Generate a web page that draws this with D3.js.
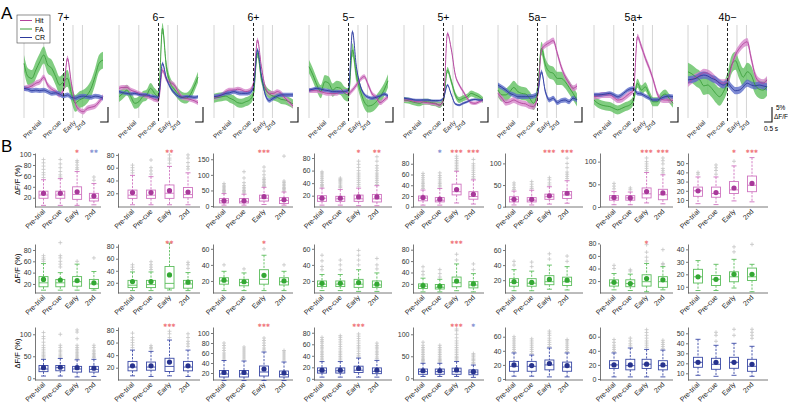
<!DOCTYPE html>
<html><head><meta charset="utf-8">
<script src="https://cdn.jsdelivr.net/npm/d3@7"></script>
<style>
body{margin:0;background:#fff;}
svg{display:block;font-family:"Liberation Sans",Arial,Helvetica,sans-serif;}
</style></head><body>
<svg id="c" width="788" height="406"></svg>
<script>
// ---------------- DATA ----------------
const panelTitles = ["7+","6\u2212","6+","5\u2212","5+","5a\u2212","5a+","4b\u2212"];
const seriesNames = ["Hit","FA","CR"];
const windowLabels = ["Pre-trial","Pre-cue","Early","2nd"];
const windowBounds = [-2.5,-1.25,0,0.6,1.2];   // s
const traceTimes = [-2.5,-2.25,-2,-1.75,-1.5,-1.25,-1,-0.75,-0.5,-0.25,0,0.25,0.5,0.75,1,1.25,1.5,1.75,2,2.25,2.5];

// mean traces, dF/F (%) per panel
const hitTrace = [
 [9.9,10.2,10.7,11.6,12.1,13.6,11.0,9.6,8.8,7.7,9.3,19.9,11.6,4.9,2.7,2.1,3.2,3.6,4.0,5.4,7.1],
 [9.9,10.2,10.2,9.3,8.8,8.2,7.7,7.3,6.9,6.2,6.0,16.0,12.9,11.8,11.0,8.8,6.9,6.6,6.2,5.8,5.1],
 [6.9,7.1,7.7,8.8,9.3,9.3,9.6,9.3,8.8,9.1,11.6,26.0,17.1,10.2,8.2,8.2,8.8,8.2,6.6,5.4,4.0],
 [9.1,9.1,9.1,8.8,8.4,8.2,8.2,8.2,8.8,8.8,8.2,9.3,11.0,12.9,13.8,11.0,8.0,6.9,5.1,6.0,7.1],
 [6.0,6.0,5.8,5.4,5.4,5.3,5.1,4.9,4.7,4.3,6.0,28.2,22.7,14.3,11.0,8.8,6.6,5.1,4.9,5.4,6.0],
 [8.2,6.6,5.1,5.4,6.0,5.4,4.9,4.7,4.0,3.8,7.1,22.7,24.3,25.1,25.8,21.6,17.1,13.8,11.6,9.9,10.7],
 [7.1,7.3,7.7,7.7,7.7,6.9,6.0,6.2,7.1,8.2,9.3,27.1,23.8,19.9,16.6,12.7,8.2,6.2,6.0,6.0,5.8],
 [11.6,12.7,13.6,14.3,15.1,14.9,14.0,12.7,11.8,11.6,12.1,17.1,21.0,23.2,24.7,25.4,19.9,14.3,12.1,11.6,12.7]
];
const faTrace = [
 [18.2,13.8,13.2,16.0,18.8,21.0,17.7,16.6,13.8,11.0,12.1,13.2,8.2,4.9,6.0,6.6,7.7,9.9,13.8,18.2,19.3],
 [7.1,8.2,9.3,7.1,4.9,5.4,7.1,7.7,9.9,8.2,7.1,29.9,17.1,11.6,9.6,8.0,6.9,6.6,7.7,10.4,13.6],
 [6.6,6.9,7.1,7.3,6.6,6.0,5.1,4.9,5.4,6.0,8.2,21.6,13.2,9.6,8.0,7.3,6.9,6.2,6.0,5.4,4.7],
 [17.1,14.3,11.0,8.8,12.1,11.6,9.3,10.2,9.9,8.2,7.7,22.7,14.3,9.1,5.4,4.0,4.3,5.4,7.1,9.3,12.4],
 [6.0,5.8,5.4,5.1,4.9,5.4,5.4,5.1,4.9,4.3,6.0,16.0,12.1,7.7,6.0,6.6,7.1,8.2,7.7,7.1,6.0],
 [9.3,7.7,7.7,8.8,10.2,8.8,8.2,8.0,6.6,4.9,8.8,23.2,17.7,15.4,14.9,13.2,13.2,12.1,10.2,8.2,6.0],
 [6.0,4.9,4.3,4.0,3.8,3.2,2.7,3.2,3.8,4.3,6.0,11.6,9.3,10.4,7.7,5.4,5.4,7.1,8.0,6.6,4.9],
 [15.4,14.7,13.6,12.7,10.7,11.0,9.9,8.2,7.1,8.8,12.1,17.7,19.1,16.0,13.6,15.4,14.3,11.0,9.6,9.3,10.4]
];
const crTrace = [
 [9.9,9.6,9.1,9.3,9.1,9.3,8.8,8.2,8.4,8.0,7.3,7.7,6.9,6.6,7.1,7.3,7.1,6.9,7.3,7.1,6.6],
 [8.8,8.4,8.2,8.0,8.2,7.9,7.7,7.7,7.3,7.1,6.9,18.2,13.2,10.2,8.4,7.3,6.9,7.1,7.1,6.9,7.1],
 [7.1,7.3,7.7,8.2,8.4,8.8,8.4,8.2,8.2,8.4,10.2,22.7,14.3,7.7,5.8,6.6,7.3,7.7,7.7,7.7,7.7],
 [9.3,9.6,9.9,9.6,9.3,9.1,8.8,8.8,8.7,8.8,9.3,28.8,17.1,10.7,7.9,6.9,6.6,6.9,7.3,8.0,7.3],
 [6.6,6.4,6.2,6.0,6.0,6.0,6.0,5.8,5.8,5.8,6.6,11.0,7.7,4.7,4.3,4.9,5.4,6.0,6.2,6.0,6.0],
 [11.0,10.2,9.3,8.2,7.7,7.1,7.1,7.1,7.1,7.3,8.0,15.4,8.8,6.0,6.6,5.1,5.8,6.0,5.4,6.6,6.0],
 [7.7,7.7,7.8,8.0,8.2,7.7,7.1,7.7,8.8,9.6,9.9,8.2,8.0,7.3,6.6,6.0,6.0,6.6,7.1,7.3,7.1],
 [12.7,12.9,13.2,14.0,14.3,14.0,13.2,12.7,11.6,11.0,11.6,10.2,9.1,9.3,10.4,11.6,11.0,10.7,11.0,10.7,10.4]
];
// s.e.m. (%) per panel
const hitSem = [0.9,0.8,0.8,0.8,0.6,1.0,1.0,1.3];
const faSem  = [2.8,1.8,1.5,2.2,1.0,2.2,1.5,3.0];
const crSem  = [0.8,0.6,0.7,0.6,0.4,0.8,0.7,1.2];

// Box stats per panel per window: [whiskerLow, q1, median, q3, whiskerHigh, mean]
const hitBox = [
 [[6,19,25,32,53,28],[6,19,25,32,55,28],[6,17,26,40,68,31],[7,14,19,28,46,23]],
 [[2,12,17,25,48,21],[2,12,17,25,46,21],[2,12,20,33,62,24],[2,13,18,29,52,22]],
 [[3,10,17,24,40,17],[3,10,15,24,38,17],[5,16,25,35,60,30],[3,8,18,27,45,20]],
 [[5,11,16,20,32,16],[5,11,15,19,30,16],[4,11,15,21,32,18],[4,10,15,22,36,18]],
 [[3,11,16,20,31,17],[3,9,12,17,34,14],[7,22,28,42,66,32],[5,14,19,28,50,23]],
 [[4,11,17,23,36,17],[4,11,15,21,38,17],[6,17,23,29,46,25],[8,19,27,35,60,31]],
 [[5,15,20,25,34,21],[5,15,20,25,33,20],[9,20,29,42,76,34],[7,16,27,39,71,31]],
 [[6,14,20,24,35,20],[5,13,17,24,35,18],[9,17,21,30,47,23],[8,19,26,36,56,28]]
];
const faBox = [
 [[9,15,22,33,56,28],[9,15,22,28,40,27],[9,16,24,33,55,26],[9,12,20,28,42,22]],
 [[7,12,16,24,38,22],[7,12,17,24,38,22],[8,11,19,47,86,33],[7,11,18,24,37,21]],
 [[8,16,20,24,32,21],[8,14,18,22,30,19],[8,16,22,34,52,27],[8,15,19,24,32,20]],
 [[8,13,16,20,28,17],[8,13,16,20,28,17],[7,12,16,22,34,18],[7,12,15,20,30,16]],
 [[6,12,16,20,30,17],[6,11,14,19,28,16],[8,15,22,32,55,25],[6,13,18,24,38,20]],
 [[6,12,17,22,34,18],[6,12,16,22,32,17],[8,14,18,26,40,21],[7,13,18,24,38,20]],
 [[6,12,17,22,32,18],[5,11,16,22,31,16],[3,12,19,30,48,24],[6,10,19,27,43,22]],
 [[7,13,18,24,31,18],[7,11,16,19,28,16],[9,14,18,22,32,20],[6,15,18,25,28,20]]
];
const crBox = [
 [[5,15,21,29,43,24],[5,17,24,29,45,25],[3,14,21,27,42,24],[4,14,20,27,43,23]],
 [[7,15,21,30,48,23],[6,16,21,29,46,23],[7,14,22,35,64,29],[6,15,21,30,48,23]],
 [[5,12,18,25,45,21],[5,12,18,25,44,21],[5,14,22,34,62,28],[5,12,17,24,42,20]],
 [[3,10,14,19,30,15],[3,10,14,19,30,15],[3,11,15,22,36,18],[3,9,13,19,32,15]],
 [[4,9,15,21,34,17],[4,9,15,21,34,17],[4,9,15,23,38,19],[2,8,14,19,30,15]],
 [[4,11,18,25,37,20],[4,11,18,25,34,19],[3,13,20,27,44,22],[3,11,17,24,37,19]],
 [[3,15,20,26,37,20],[3,13,19,28,44,20],[3,15,21,28,42,21],[3,13,19,26,41,20]],
 [[8,16,21,26,44,21],[7,14,19,25,38,21],[8,15,21,26,40,21],[7,12,17,24,37,19]]
];
// outliers
const hitOut = [
 [[57,62,66,72,78,84,90],[58,62,68,75,82,90],[72,75,80,85,88],[52,58]],
 [[52,56,60,64],[50,55,60,72],[67,72,75,80],[58,62,68,75,80]],
 [[42,46,50,54,58,62,67,72],[42,46,50,55,60,66,75,90,110],[62,66,70,75,80,85,90,100,112,125],[48,52,56,60,65,70,75,80,160]],
 [[34,36,38,41,44,47,50,53,56,58],[33,35,37,40,42,44,46,48],[35,38,41,44,47,50,53,56,60,65,70,75],[38,41,44,47,50,53,56,60,64,68,75,82]],
 [[34,37,40,43,46,50,54,58,62],[37,40,43,46,50,54,58,63],[68,71,74,77,80,83,86,90,94],[53,56,60,64,68,72,76,80,88]],
 [[40,44,50,55],[42,46,52,58],[50,55,62,67],[65,70,75,80,90,100,112]],
 [[40,46,52],[38,42],[80,85,90,95,100,108],[75,80,85,95,102,108]],
 [[38,40],[38,42,45,48],[52],[]]
];
const faOut = [
 [[60,63,66,70],[50,55,60,66,70,93],[60],[66]],
 [[42,46,50],[42,46,50,55],[],[44,50,54]],
 [[40],[35],[60],[40]],
 [[34,38,45,52],[34,40,46],[40,46,52,58],[35,40,48]],
 [[36,42,50],[32,38,45],[62,72],[45,55]],
 [[40,45],[38,44],[48,55],[45,52]],
 [[40,45],[36,38],[52,58,66,78],[46,48,70]],
 [[],[],[38,42],[44]]
];
const crOut = [
 [[46,49,52,55,58,62,66,70,75,82,90,95,104],[48,51,55,60,64,70,75,100],[45,48,51,55,58,62,66,70,75,90,105,110],[47,50,53,56,60,64,70,75]],
 [[52,56,60,64,68,75],[50,52,55],[68,74,78],[54,58,62,68,74]],
 [[48,52,56,60,65,70,75,80],[48,52,56,60,64,68,72],[66,70,75,80,85,90],[46,50,54,58,62,65]],
 [[33,36,39,42,45,48,52,55,58,62,65,68,72],[33,36,39,42,45,48,52,56,60,64,68,72,75],[38,41,44,48,52,55,58,62,66,70,74,78],[35,38,42,45,48,52,55,58,62]],
 [[37,40,43,46,50,54,58,62,66,70,75,82],[37,40,43,46,50,54,58,62,66,70,75],[41,44,47,50,54,58,62,66,70,75,80,85,92,100,108,112],[33,36,40,43,46,50,53,56]],
 [[39,42,45,48,51,54,57,60],[36,39,42,45,48,51,54,57],[46,49,52,55,58,62,65,68],[39,42,45,48,51,54,56]],
 [[39,42,45,48,52,56],[47,50,54,58],[45,48,51,54,58,62,66,70],[43,46,49,52,55]],
 [[],[42,48,51],[48,54],[45,48,51,54]]
];
// significance: n stars, positive = increase (red), negative = decrease (blue)
const hitSig = [[0,0,1,-2],[0,0,2,0],[0,0,3,0],[0,0,1,2],[0,-1,3,3],[0,0,3,3],[0,0,3,3],[0,0,1,3]];
const faSig  = [[0,0,0,0],[0,0,2,0],[0,0,1,0],[0,0,0,0],[0,0,3,0],[0,0,0,0],[0,0,1,0],[0,0,0,0]];
const crSig  = [[0,0,0,0],[0,0,3,0],[0,0,3,0],[0,0,3,0],[0,0,3,-1],[0,0,0,0],[0,0,0,0],[0,0,0,0]];
// y-axis ticks and domains
const hitTicks = [[20,40,60,80,100],[20,40,60,80],[0,50,100,150],[20,40,60,80],[0,20,40,60,80],[0,50,100],[0,50,100],[10,20,30,40,50]];
const faTicks  = [[20,40,60,80],[20,40,60,80],[20,40,60],[20,40,60],[20,40,60,80],[20,40,60],[20,40,60,80],[10,20,30,40]];
const crTicks  = [[0,50,100],[20,40,60,80],[20,40,60,80,100],[0,20,40,60,80],[0,50,100],[0,20,40,60],[0,20,40,60],[10,20,30,40,50]];
const hitDom = [[3,102],[-1.5,83],[-3,170],[2,88],[-0.5,100],[-0.7,124],[0,119],[2.4,61]];
const faDom  = [[4,90.6],[3,84.5],[5,66],[5,66],[4,90],[3,68],[1,79],[5,44.3]];
const crDom  = [[-4,116.6],[0.4,84.8],[6,112],[-2,90],[-4,116.6],[-1.4,73.8],[-1.4,73.8],[3.3,56.3]];

// ---------------- LAYOUT / STYLE ----------------
const svg = d3.select("#c");
const C = {
  Hit:{line:"#b2439c", band:"#d584c9", box:"#cf74c0", dot:"#a8399a"},
  FA: {line:"#3a9e3a", band:"#62c062", box:"#5cbd5c", dot:"#34a834"},
  CR: {line:"#2c3a9c", band:"#5a6ac8", box:"#3b4aa6", dot:"#27338e"}
};
const red = "#f07a80", blue = "#8a96d4";

svg.append("text").attr("x",1).attr("y",19).attr("font-size",17).text("A");
svg.append("text").attr("x",1).attr("y",152).attr("font-size",17).text("B");

// ---- Panel A ----
const aStarts = [24,119,214,309,404,498,594,688];
const aW = 79;
const yT = d3.scaleLinear().domain([0,31]).range([118,25]);
const traces = [hitTrace, faTrace, crTrace];
const sems = [hitSem, faSem, crSem];
const drawOrder = [1,0,2];

aStarts.forEach((x0,p)=>{
  const g = svg.append("g");
  const xT = d3.scaleLinear().domain([-2.5,2.5]).range([x0,x0+aW]);
  windowBounds.forEach(t=>{
    if(t===0) return;
    g.append("line").attr("x1",xT(t)).attr("x2",xT(t)).attr("y1",25).attr("y2",118)
      .attr("stroke","#cfcfcf").attr("stroke-width",0.9);
  });
  drawOrder.forEach(s=>{
    const name = seriesNames[s];
    const vals = traces[s][p], sem = sems[s][p];
    const pts = traceTimes.map((t,i)=>({t, v:vals[i]}));
    const area = d3.area().x(d=>xT(d.t)).y0(d=>yT(d.v-sem)).y1(d=>yT(d.v+sem)).curve(d3.curveMonotoneX);
    g.append("path").attr("d",area(pts)).attr("fill",C[name].band).attr("opacity",name==="FA"?0.8:0.78);
  });
  drawOrder.forEach(s=>{
    const name = seriesNames[s];
    const vals = traces[s][p];
    const pts = traceTimes.map((t,i)=>({t, v:vals[i]}));
    const line = d3.line().x(d=>xT(d.t)).y(d=>yT(d.v)).curve(d3.curveMonotoneX);
    g.append("path").attr("d",line(pts)).attr("fill","none").attr("stroke",C[name].line).attr("stroke-width",0.9);
  });
  g.append("line").attr("x1",xT(0)).attr("x2",xT(0)).attr("y1",23).attr("y2",121)
    .attr("stroke","#222").attr("stroke-width",1).attr("stroke-dasharray","3,2");
  g.append("text").attr("x",xT(0)).attr("y",21).attr("text-anchor","middle").attr("font-size",10.5).text(panelTitles[p]);
  windowLabels.forEach((lab,i)=>{
    const cx = xT((windowBounds[i]+windowBounds[i+1])/2);
    g.append("text").attr("transform",`translate(${cx+8},123) rotate(-45)`)
      .attr("text-anchor","end").attr("font-size",6.5).attr("fill","#222").text(lab);
  });
  const bx = x0+aW+5, by = 122;
  const h = yT(0)-yT(5), w = xT(0.5)-xT(0);
  g.append("path").attr("d",`M${bx-w},${by}H${bx}V${by-h}`).attr("fill","none").attr("stroke","#111").attr("stroke-width",1.1);
  if(p===7){
    g.append("text").attr("x",bx+4).attr("y",by-12).attr("font-size",6.5).text("5%");
    g.append("text").attr("x",bx+2).attr("y",by-3).attr("font-size",6.5).text("\u0394F/F");
    g.append("text").attr("x",bx-8).attr("y",by+9).attr("font-size",6.5).text("0.5 s");
  }
});

const lg = svg.append("g");
lg.append("rect").attr("x",17).attr("y",15).attr("width",33).attr("height",28).attr("fill","#fff").attr("stroke","#444").attr("stroke-width",0.6);
seriesNames.forEach((n,i)=>{
  const y = 20.5+i*8.5;
  lg.append("line").attr("x1",20).attr("x2",32).attr("y1",y).attr("y2",y).attr("stroke",C[n].line).attr("stroke-width",1);
  lg.append("text").attr("x",35).attr("y",y+2.5).attr("font-size",7).text(n);
});

// ---- Panel B ----
const colAxis = [[35,101],[118,200],[213,293],[314,392],[413,484],[505,583],[600,673],[688,768]];
const colFirst = [43.5,132.5,224,322,423,514,614,698];
const colStep = [16.8,18.5,20,18.3,16.8,17.7,16.3,18];
const rowY = [[153,207],[244,293],[327,380]];   // [top, bottom]
const rows = [
  {name:"Hit", box:hitBox, out:hitOut, sig:hitSig, ticks:hitTicks, dom:hitDom},
  {name:"FA",  box:faBox,  out:faOut,  sig:faSig,  ticks:faTicks,  dom:faDom},
  {name:"CR",  box:crBox,  out:crOut,  sig:crSig,  ticks:crTicks,  dom:crDom}
];
const bw = 9;
rows.forEach((row,r)=>{
  const [yt,yb] = rowY[r];
  const col = C[row.name];
  svg.append("text").attr("transform",`translate(20,${(yb+yt)/2}) rotate(-90)`)
    .attr("text-anchor","middle").attr("font-size",7.5).text("\u0394F/F (%)");
  for(let c=0;c<8;c++){
    const g = svg.append("g");
    const y = d3.scaleLinear().domain(row.dom[c]).range([yb,yt]);
    const [ax0,ax1] = colAxis[c];
    const ax = g.append("g").attr("transform",`translate(${ax0},0)`)
      .call(d3.axisLeft(y).tickValues(row.ticks[c]).tickSize(2).tickPadding(1.5).tickSizeOuter(0));
    ax.select(".domain").attr("stroke","#555").attr("stroke-width",0.8);
    ax.selectAll(".tick line").attr("stroke","#555").attr("stroke-width",0.8);
    ax.selectAll("text").attr("font-size",7).attr("fill","#333").attr("font-family","Liberation Sans, Arial, sans-serif");
    g.append("line").attr("x1",ax0).attr("x2",ax1).attr("y1",yb).attr("y2",yb).attr("stroke","#555").attr("stroke-width",0.8);
    windowLabels.forEach((lab,i)=>{
      const cx = colFirst[c]+i*colStep[c];
      const [lo,q1,md,q3,hi,mn] = row.box[c][i];
      row.out[c][i].forEach(v=>{
        const yy = y(v);
        g.append("path").attr("d",`M${cx-2},${yy}H${cx+2}M${cx},${yy-2}V${yy+2}`)
          .attr("stroke","#c4c4c4").attr("stroke-width",0.8);
      });
      g.append("line").attr("x1",cx).attr("x2",cx).attr("y1",y(hi)).attr("y2",y(q3))
        .attr("stroke",col.box).attr("stroke-width",0.9).attr("stroke-dasharray","2.2,1.3");
      g.append("line").attr("x1",cx).attr("x2",cx).attr("y1",y(q1)).attr("y2",y(lo))
        .attr("stroke",col.box).attr("stroke-width",0.9).attr("stroke-dasharray","2.2,1.3");
      [hi,lo].forEach(v=>g.append("line").attr("x1",cx-2.5).attr("x2",cx+2.5).attr("y1",y(v)).attr("y2",y(v))
        .attr("stroke",col.box).attr("stroke-width",0.9));
      g.append("rect").attr("x",cx-bw/2).attr("y",y(q3)).attr("width",bw).attr("height",Math.max(0.5,y(q1)-y(q3)))
        .attr("fill","none").attr("stroke",col.box).attr("stroke-width",0.9);
      g.append("line").attr("x1",cx-bw/2).attr("x2",cx+bw/2).attr("y1",y(md)).attr("y2",y(md))
        .attr("stroke",col.box).attr("stroke-width",0.9);
      g.append("circle").attr("cx",cx).attr("cy",y(mn)).attr("r",2.6).attr("fill",col.dot);
      g.append("text").attr("transform",`translate(${cx+2},${yb+5}) rotate(-45)`)
        .attr("text-anchor","end").attr("font-size",7).attr("fill","#222").text(lab);
      const s = row.sig[c][i];
      if(s!==0){
        g.append("text").attr("x",cx).attr("y",yt-0.5).attr("text-anchor","middle")
          .attr("font-size",4.8).attr("font-family","DejaVu Sans, sans-serif").attr("fill",s>0?red:blue)
          .attr("letter-spacing",0.2).text("\u2731".repeat(Math.abs(s)));
      }
    });
  }
});
</script>
</body></html>
